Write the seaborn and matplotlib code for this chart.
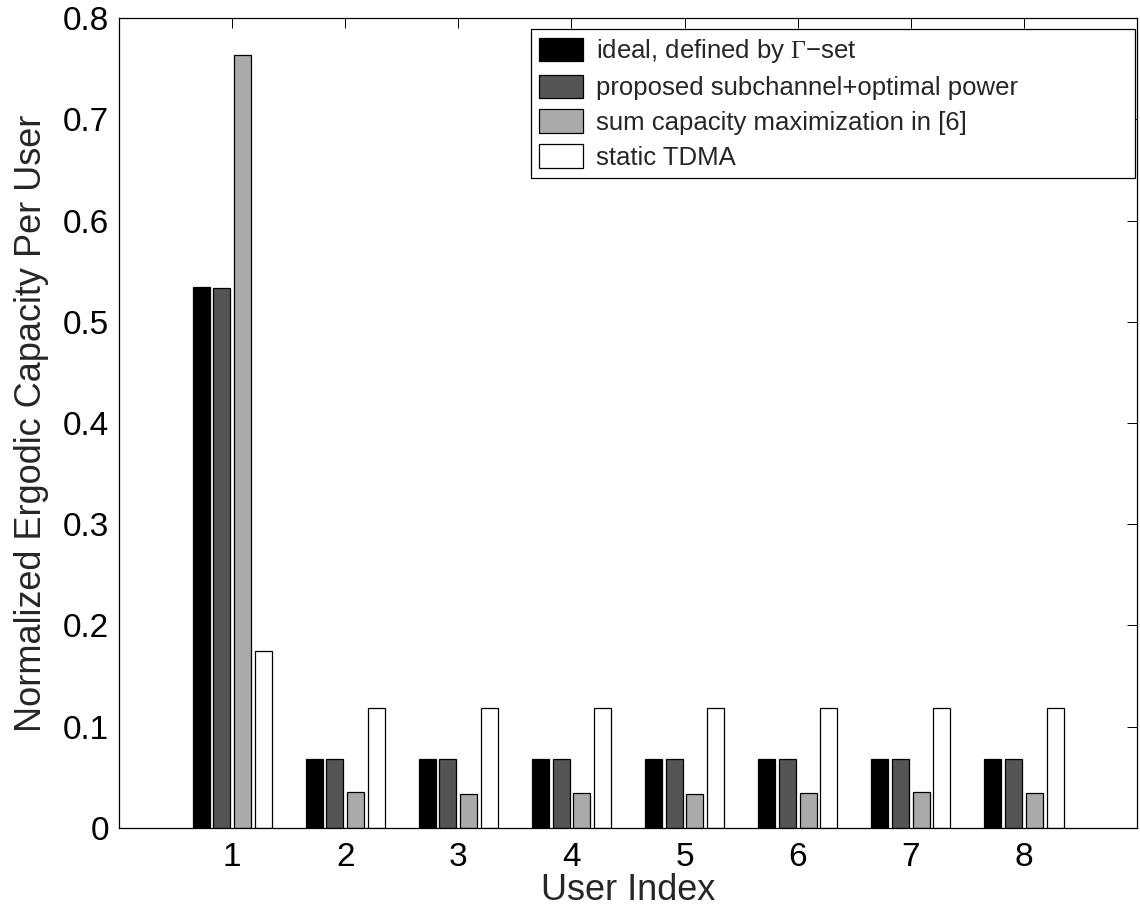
import matplotlib
matplotlib.use("Agg")
import matplotlib.pyplot as plt
import seaborn as sb
import pandas as pd
import numpy as np

users = [1, 2, 3, 4, 5, 6, 7, 8]
schemes = ["ideal, defined by $\\Gamma$\u2212set",
           "proposed subchannel+optimal power",
           "sum capacity maximization in [6]",
           "static TDMA"]
ideal = [0.534, 0.068, 0.068, 0.068, 0.068, 0.068, 0.068, 0.068]
proposed = [0.533, 0.068, 0.068, 0.068, 0.068, 0.068, 0.068, 0.068]
sum_cap = [0.763, 0.0355, 0.034, 0.0348, 0.034, 0.0348, 0.0358, 0.0345]
tdma = [0.175, 0.119, 0.119, 0.119, 0.119, 0.119, 0.119, 0.119]
yticks = [0, 0.1, 0.2, 0.3, 0.4, 0.5, 0.6, 0.7, 0.8]
ytick_labels = ["0", "0.1", "0.2", "0.3", "0.4", "0.5", "0.6", "0.7", "0.8"]
colors = ["#000000", "#555555", "#aaaaaa", "#ffffff"]

rows = []
for vals, name in zip([ideal, proposed, sum_cap, tdma], schemes):
    for u, v in zip(users, vals):
        rows.append({"user": u, "scheme": name, "cap": v})
df = pd.DataFrame(rows)

sb.set_style("white")
plt.rcParams['font.family'] = ['Liberation Sans', 'DejaVu Sans']
plt.rcParams['mathtext.fontset'] = 'custom'
plt.rcParams['mathtext.rm'] = 'Liberation Serif'
plt.rcParams['mathtext.it'] = 'Liberation Serif'

fig = plt.figure(figsize=(11.4, 9.15), dpi=100)
ax = fig.add_axes([0.1044, 0.0951, 0.893, 0.8852])

sb.barplot(data=df, x="user", y="cap", hue="scheme", hue_order=schemes,
           palette=colors, native_scale=True, width=0.733, gap=0.18,
           edgecolor="black", linewidth=0.9, saturation=1, ax=ax)

ax.set_xlim(0, 9)
ax.set_ylim(0, 0.8)
ax.set_xticks(users)
ax.set_xticklabels([str(u) for u in users])
ax.set_yticks(yticks)
ax.set_yticklabels(ytick_labels)
ax.tick_params(direction="in", length=7, width=0.7, top=True, right=True,
               labelsize=24, colors="black")
ax.tick_params(axis="y", pad=7)
ax.tick_params(axis="x", pad=10)
for s in ax.spines.values():
    s.set_visible(True)
    s.set_color("black")
    s.set_linewidth(0.9)

ax.set_xlabel("User Index", fontsize=26, labelpad=0)
ax.set_ylabel("Normalized Ergodic Capacity Per User", fontsize=26, labelpad=10)

# MATLAB style legend box: wider than its text
leg = ax.legend(loc="upper left", bbox_to_anchor=(0.4047, 0.80, 0.5933, 0.1864),
                mode="expand", fontsize=18.5, frameon=True, fancybox=False,
                edgecolor="black", framealpha=1, borderaxespad=0,
                handlelength=1.7, handleheight=1.05, labelspacing=0.36,
                handletextpad=0.5, borderpad=0.32)
leg.get_frame().set_linewidth(0.9)

fig.savefig("out.png", dpi=100)
